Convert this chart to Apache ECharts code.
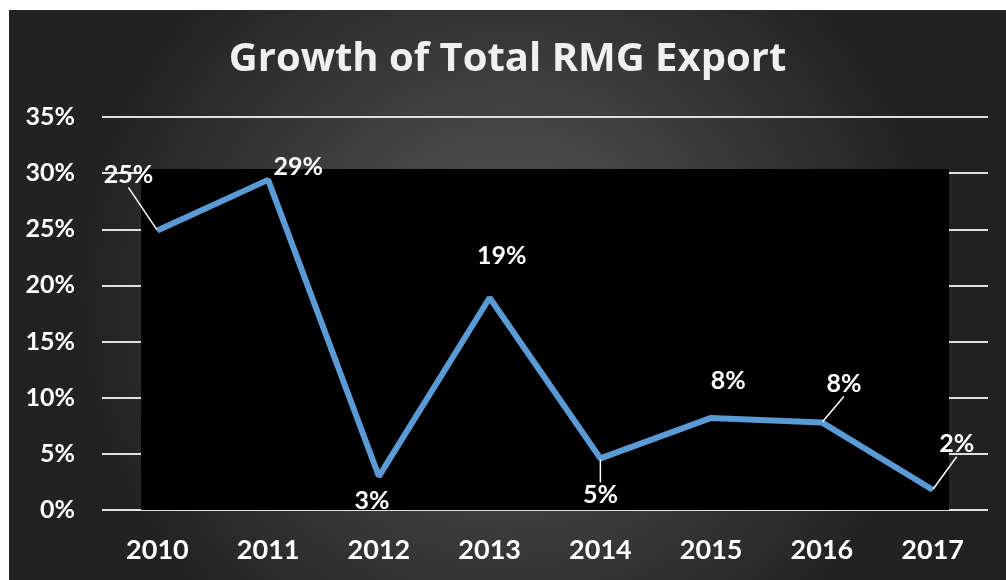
<!DOCTYPE html>
<html>
<head>
<meta charset="utf-8">
<script src="https://cdn.jsdelivr.net/npm/echarts@6/dist/echarts.min.js"></script>
<style>
  html, body { margin: 0; padding: 0; background: #fff; }
  #main { position: absolute; left: 9px; top: 10px; width: 997px; height: 570px; }
</style>
</head>
<body>
<div id="main"></div>
<script>
// data
const years = ["2010", "2011", "2012", "2013", "2014", "2015", "2016", "2017"];
const growth = [24.9, 29.4, 3.0, 18.9, 4.6, 8.2, 7.8, 1.8]; // %
// label nudges (dx, dy) so labels sit where the original has them
const labelShift = [[-29, -37], [30, 6], [-7, 43], [12, -23], [0, 55], [17, -18], [22, -20], [24, -27]];
const withLeader = [true, false, false, false, true, false, true, true];

const chart = echarts.init(document.getElementById("main"));
const font = "Lato, 'Noto Sans', sans-serif";

const option = {
  backgroundColor: {
    type: "radial", x: 0.5, y: 0.5, r: 0.75,
    colorStops: [
      { offset: 0, color: "#5a5a5a" },
      { offset: 1, color: "#222222" }
    ]
  },
  title: {
    text: "Growth of Total RMG Export",
    left: "center",
    top: 25,
    textStyle: { color: "#f0f0f0", fontSize: 40, fontWeight: "bold", fontFamily: "'Open Sans', sans-serif" }
  },
  // black plot fill, offset like in the original
  graphic: [{
    type: "rect", z: 1,
    shape: { x: 132, y: 159, width: 808, height: 341 },
    style: { fill: "#000" }
  }],
  grid: { left: 93, right: 18, top: 107, bottom: 70 },
  xAxis: {
    type: "category",
    data: years,
    axisLine: { show: false },
    axisTick: { show: false },
    axisLabel: { color: "#fff", fontSize: 27, fontWeight: "bold", fontFamily: font, margin: 27 }
  },
  yAxis: {
    type: "value",
    min: 0, max: 35, interval: 5,
    axisLabel: { color: "#fff", fontSize: 25, fontWeight: "bold", fontFamily: font, margin: 27, formatter: "{value}%" },
    splitLine: { lineStyle: { color: "#e0e0e0", width: 2 } }
  },
  series: [{
    type: "line",
    z: 3,
    data: growth.map((v, i) => ({ value: v, labelLine: { show: withLeader[i] } })),
    symbol: "circle",
    symbolSize: 2,
    showSymbol: true,
    itemStyle: { color: "#5b9bd5" },
    lineStyle: { color: "#5b9bd5", width: 6 },
    label: {
      show: true,
      position: "top",
      distance: 5,
      color: "#fff",
      fontSize: 25,
      fontWeight: "bold",
      fontFamily: font,
      formatter: p => Math.round(p.value) + "%"
    },
    labelLine: { show: true, lineStyle: { color: "#fff", width: 1.5 } },
    labelLayout: p => ({ dx: labelShift[p.dataIndex][0], dy: labelShift[p.dataIndex][1] })
  }]
};
chart.setOption(option);
</script>
</body>
</html>
